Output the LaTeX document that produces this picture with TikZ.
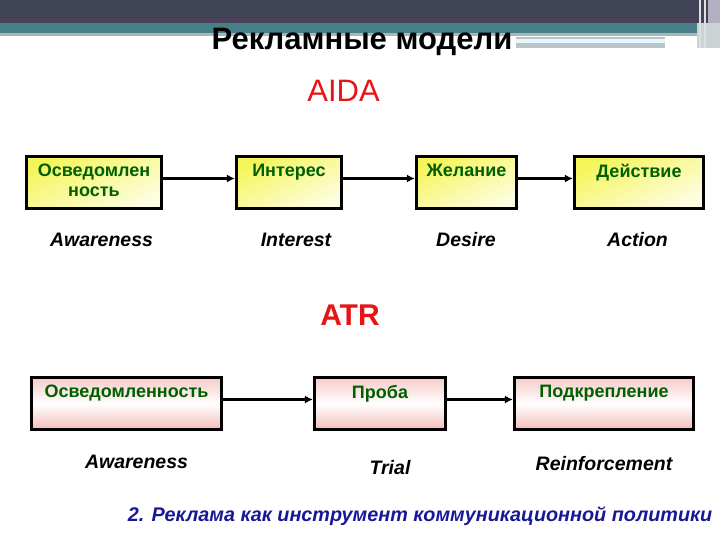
\documentclass[tikz,border=0pt]{standalone}
\usepackage{fontspec}
\setmainfont{Liberation Sans}
\usepackage{xcolor}
\usetikzlibrary{arrows.meta, positioning}

\definecolor{shapka}{RGB}{64,68,86}
\definecolor{shapkalil}{RGB}{74,66,88}
\definecolor{biryuza}{RGB}{72,128,136}
\definecolor{seryj}{RGB}{168,182,186}
\definecolor{lilov}{RGB}{180,176,196}
\definecolor{zhelt}{RGB}{245,245,90}
\definecolor{rozov}{RGB}{244,188,188}
\definecolor{zelen}{RGB}{0,96,0}
\definecolor{sinij}{RGB}{24,24,150}
\definecolor{krasn}{RGB}{230,20,20}

\begin{document}
\begin{tikzpicture}[x=1pt, y=-1pt, >={Latex[length=8pt, width=8pt]},
    ramka/.style={draw, line width=3.2pt, minimum height=52pt, inner sep=0pt},
    aida/.style={ramka, top color=zhelt, bottom color=zhelt!18, shading angle=25},
    atr/.style={ramka, top color=rozov!80, bottom color=rozov, middle color=white},
    nadpis/.style={anchor=north, yshift=-9pt, inner sep=0pt, text=zelen, align=center,
        font=\bfseries\fontsize{18}{20}\selectfont},
    angl/.style={anchor=base, font=\bfseries\itshape\fontsize{19.5}{22}\selectfont},
    strelka/.style={->, line width=3.5pt}]
    \useasboundingbox (0,0) rectangle (720,540);

    % Шапка слайда
    \fill[shapka] (0,0) rectangle (720,23);
    \fill[shapkalil] (0,18) rectangle (697,23);
    \fill[biryuza] (0,23) rectangle (697,33);
    \fill[seryj] (0,33) rectangle (697,36);
    \fill[seryj!80] (516,37) rectangle (665,48);
    \fill[white!90!cyan] (516,39) rectangle (665,43);
    \fill[lilov] (708,0) rectangle (720,23);
    \fill[seryj!60] (697,23) rectangle (720,48);
    \draw[white!75!gray, line width=1.2pt] (700,0) -- (700,48) (705,0) -- (705,48);

    % Заголовки
    \node[anchor=base, font=\bfseries\fontsize{31}{34}\selectfont] (zagolovok) at (362,50) {Рекламные модели};
    \node[anchor=base, text=krasn, font=\fontsize{31}{34}\selectfont] (aidazag) at (343.5,102) {AIDA};
    \node[anchor=base, text=krasn, font=\bfseries\fontsize{30}{34}\selectfont] (atrzag) at (350,325) {ATR};

    % Модель AIDA
    \node[aida, minimum width=135pt, label={[nadpis]north:Осведомлен\\ность}] (a1) at (94,182.5) {};
    \node[aida, minimum width=105pt, label={[nadpis]north:Интерес}] (a2) at (289,182.5) {};
    \node[aida, minimum width=100pt, label={[nadpis]north:Желание}] (a3) at (466.5,182.5) {};
    \node[aida, minimum width=129pt, label={[nadpis]north:Действие}] (a4) at (639,182.5) {};

    \node[angl] (a1en) at (101.5,247) {Awareness};
    \node[angl] (a2en) at (296,247) {Interest};
    \node[angl] (a3en) at (466,247) {Desire};
    \node[angl] (a4en) at (637.5,247) {Action};

    \draw[strelka] ([yshift=4pt]a1.east) -- ([yshift=4pt]a2.west);
    \draw[strelka] ([yshift=4pt]a2.east) -- ([yshift=4pt]a3.west);
    \draw[strelka] ([yshift=4pt]a3.east) -- ([yshift=4pt]a4.west);

    % Модель ATR
    \node[atr, minimum width=190pt, label={[nadpis]north:Осведомленность}] (b1) at (126.5,403.5) {};
    \node[atr, minimum width=131pt, label={[nadpis]north:Проба}] (b2) at (380,403.5) {};
    \node[atr, minimum width=179pt, label={[nadpis]north:Подкрепление}] (b3) at (604,403.5) {};

    \node[angl] (b1en) at (136.5,468) {Awareness};
    \node[angl] (b2en) at (390,474) {Trial};
    \node[angl] (b3en) at (604,470) {Reinforcement};

    \draw[strelka] ([yshift=4pt]b1.east) -- ([yshift=4pt]b2.west);
    \draw[strelka] ([yshift=4pt]b2.east) -- ([yshift=4pt]b3.west);

    % Подпись слайда
    \node[anchor=base, text=sinij, font=\bfseries\itshape\fontsize{19.8}{22}\selectfont] (podpis)
        at (420,521) {2. Реклама как инструмент коммуникационной политики};
\end{tikzpicture}
\end{document}
